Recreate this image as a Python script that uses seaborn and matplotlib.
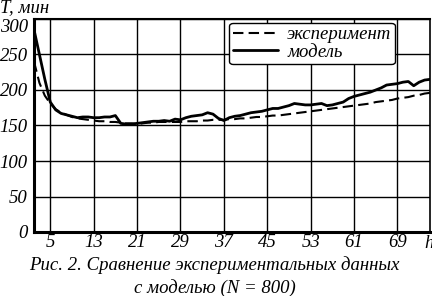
import numpy as np
import pandas as pd
import matplotlib
matplotlib.use("Agg")
import matplotlib.pyplot as plt
import matplotlib.transforms as mtransforms
import seaborn as sns

# ── data ─────────────────────────────────────────────────
h = list(range(2, 76))
model = [285, 250, 215, 183, 172, 167, 165, 163, 161, 162,
         162, 161, 161, 162, 162, 164, 153, 152, 152, 153,
         154, 155, 156, 156, 157, 156, 159, 158, 161, 163,
         164, 165, 168, 166, 160, 157, 161, 163, 164, 166,
         168, 169, 170, 172, 174, 174, 176, 178, 181, 180,
         179, 179, 180, 181, 178, 179, 181, 183, 188, 191,
         193, 195, 197, 200, 203, 207, 208, 209, 211, 212,
         206, 211, 214, 215]
experiment = [240, 210, 192, 181, 173, 168, 165, 162, 160, 159,
              158, 157, 156, 156, 155, 155, 154, 153, 153, 152,
              153, 154, 154, 155, 155, 155, 155, 155, 156, 156,
              156, 157, 157, 158, 158, 158, 159, 159, 160, 160,
              161, 162, 162, 163, 164, 164, 165, 166, 167, 168,
              169, 170, 171, 172, 173, 174, 175, 176, 177, 178,
              179, 180, 181, 183, 184, 185, 186, 188, 189, 190,
              192, 193, 195, 196]
xticks = [5, 13, 21, 29, 37, 45, 53, 61, 69]
yticks = [0, 50, 100, 150, 200, 250, 300]

df = pd.DataFrame({"h": h, "эксперимент": experiment, "модель": model})

# ── style ─────────────────────────────────────────────────
sns.set_style("white")
plt.rcParams['font.family'] = ['Liberation Serif', 'DejaVu Serif']
plt.rcParams['font.style'] = 'italic'
for k in ['text.color', 'xtick.color', 'ytick.color', 'axes.labelcolor']:
    plt.rcParams[k] = 'black'

FS = 13.5

fig = plt.figure(figsize=(4.32, 2.96), dpi=100)
ax = fig.add_axes([34 / 432, 64 / 296, 396 / 432, 213 / 296])

sns.lineplot(data=df, x="h", y="эксперимент", ax=ax, color="black",
             linewidth=1.5, label="эксперимент")
ax.lines[-1].set_dashes((5, 2.5))
sns.lineplot(data=df, x="h", y="модель", ax=ax, color="black",
             linewidth=2.0, label="модель")

ax.set_xlim(2, 75)
ax.set_ylim(0, 300)
ax.set_xticks(xticks)
ax.set_yticks(yticks)
ax.set_xlabel("")
ax.set_ylabel("")
ax.grid(True, color="black", linewidth=1.0)
ax.tick_params(length=0, labelsize=FS)
ax.tick_params(axis='x', pad=1.5)
ax.tick_params(axis='y', pad=4.5)
for lab in ax.get_xticklabels() + ax.get_yticklabels():
    lab.set_fontstyle("italic")

# top label "300" sits a little lower, as in the original
top_lab = ax.get_yticklabels()[-1]
top_lab.set_transform(top_lab.get_transform() +
                      mtransforms.ScaledTranslation(0, -5 / 72, fig.dpi_scale_trans))

ax.spines['left'].set_linewidth(2.2)
ax.spines['bottom'].set_linewidth(2.2)
ax.spines['top'].set_linewidth(1.5)
ax.spines['right'].set_linewidth(1.2)
for s in ax.spines.values():
    s.set_color("black")

leg = ax.legend(loc="upper right", bbox_to_anchor=(0.912, 0.983),
                fontsize=FS, frameon=True, fancybox=True,
                handlelength=2.4, handletextpad=0.5, borderpad=0.2,
                labelspacing=0.0, borderaxespad=0, edgecolor="black",
                framealpha=1)
leg.get_frame().set_linewidth(1.0)
for t in leg.get_texts():
    t.set_fontstyle("italic")

fig.text(0.0, (296 - 12) / 296, "T, мин", fontsize=FS, style="italic",
         va="baseline")
fig.text(424 / 432, (296 - 248) / 296, "h", fontsize=FS, style="italic",
         va="baseline")
fig.text(214 / 432, (296 - 270) / 296,
         "Рис. 2. Сравнение экспериментальных данных",
         fontsize=FS, style="italic", ha="center", va="baseline")
fig.text(215 / 432, (296 - 293) / 296, "с моделью (N = 800)",
         fontsize=FS, style="italic", ha="center", va="baseline")

fig.savefig("out.png", dpi=100)
